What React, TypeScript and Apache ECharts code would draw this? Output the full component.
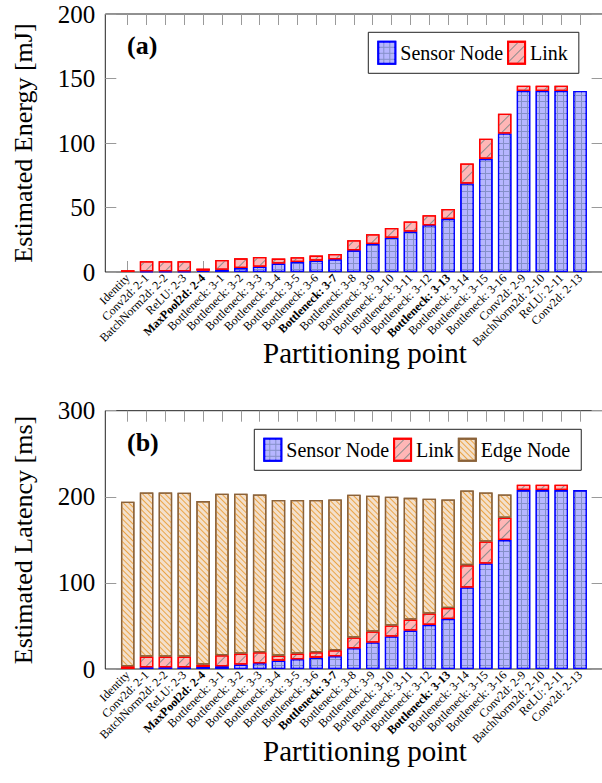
import React, { useEffect, useRef } from 'react';
import * as echarts from 'echarts';

const categories = [
  'Identity', 'Conv2d: 2-1', 'BatchNorm2d: 2-2', 'ReLU: 2-3', 'MaxPool2d: 2-4',
  'Bottleneck: 3-1', 'Bottleneck: 3-2', 'Bottleneck: 3-3', 'Bottleneck: 3-4',
  'Bottleneck: 3-5', 'Bottleneck: 3-6', 'Bottleneck: 3-7', 'Bottleneck: 3-8',
  'Bottleneck: 3-9', 'Bottleneck: 3-10', 'Bottleneck: 3-11', 'Bottleneck: 3-12',
  'Bottleneck: 3-13', 'Bottleneck: 3-14', 'Bottleneck: 3-15', 'Bottleneck: 3-16',
  'Conv2d: 2-9', 'BatchNorm2d: 2-10', 'ReLU: 2-11', 'Conv2d: 2-13',
];
const boldCategories = ['MaxPool2d: 2-4', 'Bottleneck: 3-7', 'Bottleneck: 3-13'];

// (a) Estimated energy [mJ]
const energySensor = [0, 0.5, 0.5, 0.5, 1.0, 1.8, 3.1, 4.1, 6.5, 7.8, 8.8, 9.8, 16.8, 21.7, 26.6, 31.3, 36.2, 41.1, 68.6, 87.7, 107.4, 140.3, 140.3, 140.3, 140.3];
const energyLink = [1.3, 7.8, 7.8, 7.8, 1.6, 7.5, 7.5, 7.5, 3.9, 3.6, 3.9, 4.2, 7.8, 7.6, 7.6, 7.8, 7.8, 7.8, 15.5, 15.6, 15.3, 4.1, 4.1, 4.1, 0];

// (b) Estimated latency [ms]
const latencySensor = [0, 2, 2, 2, 2.3, 3.1, 5.1, 6.6, 9.7, 11.3, 13.2, 14.8, 24.1, 30.7, 37.7, 44.6, 51.2, 58.1, 94.6, 122.6, 149.7, 207.8, 207.8, 207.8, 207.8];
const latencyLink = [3.1, 12.4, 12.4, 12.4, 2.8, 12.8, 12.8, 12.8, 5.8, 6.6, 6.2, 6.9, 12.4, 12.8, 12.8, 12.8, 13.2, 12.8, 26.0, 25.5, 25.9, 6.2, 6.2, 6.2, 0];
const latencyEdge = [191.1, 190.7, 190.7, 190.3, 189.9, 187.6, 185.6, 183.3, 180.7, 178.3, 176.8, 175.3, 165.9, 157.7, 149.5, 141.4, 133.3, 126.1, 86.8, 57.0, 27.1, 0, 0, 0, 0];

const energyTicks = { min: 0, max: 200, interval: 50 };
const latencyTicks = { min: 0, max: 300, interval: 100 };

const xTitle = 'Partitioning point';
const yTitleA = 'Estimated Energy [mJ]';
const yTitleB = 'Estimated Latency [ms]';

const FONT = 'Liberation Serif';

const nz = (arr: number[]) => arr.map((v) => (v === 0 ? '-' : v));

const sensorStyle = {
  color: '#8590c9', borderColor: '#0000ff', borderWidth: 1.3,
  decal: { symbol: 'rect', symbolSize: 1, color: '#b6b6ff', dashArrayX: [5, 1], dashArrayY: [5, 1], rotation: 0 },
};
const linkStyle = {
  color: '#ffb6b6', borderColor: '#ff0000', borderWidth: 1.3,
  decal: { symbol: 'rect', symbolSize: 1, color: '#8c8c8c', dashArrayX: [1, 0], dashArrayY: [1, 6], rotation: -Math.PI / 4 },
};
const edgeStyle = {
  color: '#f3e0cc', borderColor: '#8b6239', borderWidth: 1.3,
  decal: { symbol: 'rect', symbolSize: 1, color: '#eba446', dashArrayX: [1, 0], dashArrayY: [1, 3], rotation: Math.PI / 4 },
};

const FRAME_LEFT = 105.3;
const FRAME_WIDTH = 497.3;
const BARS_LEFT = 118.3;
const BARS_WIDTH = 471.2;
const A_TOP = 14;
const A_H = 258;
const B_TOP = 410.7;
const B_H = 258.3;

const tickStyle = { color: '#9a9a9a', width: 1 };

function catAxis(gridIndex: number, position: 'top' | 'bottom') {
  const bottom = position === 'bottom';
  return {
    type: 'category', gridIndex, position, data: categories,
    axisLine: { show: false },
    axisTick: { show: true, inside: true, length: 11, alignWithLabel: true, interval: 0, lineStyle: tickStyle },
    splitLine: { show: false },
    axisLabel: bottom
      ? {
          show: true, interval: 0, rotate: 45, margin: 4,
          fontFamily: FONT, fontSize: 12, color: '#000',
          formatter: (v: string) => (boldCategories.includes(v) ? `{b|${v}}` : v),
          rich: { b: { fontFamily: FONT, fontSize: 12, fontWeight: 'bold', color: '#000' } },
        }
      : { show: false },
  };
}

function frameYAxis(gridIndex: number, ticks: any, position: 'left' | 'right') {
  const left = position === 'left';
  return {
    type: 'value', gridIndex, position,
    min: ticks.min, max: ticks.max, interval: ticks.interval,
    axisLine: { show: false },
    axisTick: { show: true, inside: true, length: 11, lineStyle: tickStyle },
    splitLine: { show: false },
    axisLabel: left ? { show: true, margin: 10, fontFamily: FONT, fontSize: 25, color: '#000' } : { show: false },
  };
}

function legendOpt(left: number, top: number, data: string[]) {
  return {
    show: true, left, top, orient: 'horizontal', data, icon: 'rect',
    itemWidth: 17, itemHeight: 22, itemGap: 4, padding: [8.5, 11, 8.5, 9],
    borderColor: '#222', borderWidth: 1, borderRadius: 0, backgroundColor: '#fff',
    selectedMode: false,
    textStyle: { fontFamily: FONT, fontSize: 20, color: '#000' },
  };
}

const label = (x: number, y: number, text: string, font: string, extra: any = {}) => ({
  type: 'text', x, y, rotation: extra.rotation || 0, silent: true,
  style: { text, font, fill: '#000', align: extra.align || 'left', verticalAlign: extra.va || 'middle' },
});

export default function App() {
  const ref = useRef<HTMLDivElement>(null);
  useEffect(() => {
    if (!ref.current) return;
    const chart = echarts.init(ref.current, undefined, { renderer: 'svg' });
    const option: any = {
      animation: false,
      backgroundColor: '#fff',
      textStyle: { fontFamily: FONT },
      grid: [
        { left: BARS_LEFT, width: BARS_WIDTH, top: A_TOP, height: A_H, outerBoundsMode: 'none' },
        { left: FRAME_LEFT, width: FRAME_WIDTH, top: A_TOP, height: A_H, show: true, borderColor: '#222', borderWidth: 1, backgroundColor: 'transparent', outerBoundsMode: 'none' },
        { left: BARS_LEFT, width: BARS_WIDTH, top: B_TOP, height: B_H, outerBoundsMode: 'none' },
        { left: FRAME_LEFT, width: FRAME_WIDTH, top: B_TOP, height: B_H, show: true, borderColor: '#222', borderWidth: 1, backgroundColor: 'transparent', outerBoundsMode: 'none' },
      ],
      xAxis: [
        catAxis(0, 'bottom'), catAxis(0, 'top'),
        { type: 'value', gridIndex: 1, show: false, min: 0, max: 1 },
        catAxis(2, 'bottom'), catAxis(2, 'top'),
        { type: 'value', gridIndex: 3, show: false, min: 0, max: 1 },
      ],
      yAxis: [
        { type: 'value', gridIndex: 0, min: energyTicks.min, max: energyTicks.max, show: false },
        frameYAxis(1, energyTicks, 'left'), frameYAxis(1, energyTicks, 'right'),
        { type: 'value', gridIndex: 2, min: latencyTicks.min, max: latencyTicks.max, show: false },
        frameYAxis(3, latencyTicks, 'left'), frameYAxis(3, latencyTicks, 'right'),
      ],
      legend: [
        legendOpt(368.3, 32.3, ['Sensor Node', 'Link']),
        legendOpt(254.3, 429.3, ['Sensor Node', 'Link', 'Edge Node']),
      ],
      graphic: [
        label(127, 45.8, '(a)', 'bold 26px Liberation Serif'),
        label(127, 442.5, '(b)', 'bold 26px Liberation Serif'),
        label(365, 338, xTitle, '29px Liberation Serif', { align: 'center', va: 'top' }),
        label(365, 736, xTitle, '29px Liberation Serif', { align: 'center', va: 'top' }),
        label(36, 143, yTitleA, '26px Liberation Serif', { align: 'center', va: 'bottom', rotation: Math.PI / 2 }),
        label(36, 540, yTitleB, '26px Liberation Serif', { align: 'center', va: 'bottom', rotation: Math.PI / 2 }),
      ],
      series: [
        { name: 'Sensor Node', type: 'bar', xAxisIndex: 0, yAxisIndex: 0, stack: 'energy', barWidth: 13.5, data: nz(energySensor), itemStyle: sensorStyle, emphasis: { disabled: true } },
        { name: 'Link', type: 'bar', xAxisIndex: 0, yAxisIndex: 0, stack: 'energy', barWidth: 13.5, data: nz(energyLink), itemStyle: linkStyle, emphasis: { disabled: true } },
        { name: 'Sensor Node', type: 'bar', xAxisIndex: 3, yAxisIndex: 3, stack: 'latency', barWidth: 13.5, data: nz(latencySensor), itemStyle: sensorStyle, emphasis: { disabled: true } },
        { name: 'Link', type: 'bar', xAxisIndex: 3, yAxisIndex: 3, stack: 'latency', barWidth: 13.5, data: nz(latencyLink), itemStyle: linkStyle, emphasis: { disabled: true } },
        { name: 'Edge Node', type: 'bar', xAxisIndex: 3, yAxisIndex: 3, stack: 'latency', barWidth: 13.5, data: nz(latencyEdge), itemStyle: edgeStyle, emphasis: { disabled: true } },
      ],
    };
    chart.setOption(option);
    return () => chart.dispose();
  }, []);
  return <div ref={ref} style={{ position: 'absolute', left: 0, top: 0, width: 602, height: 783, background: '#fff' }} />;
}
